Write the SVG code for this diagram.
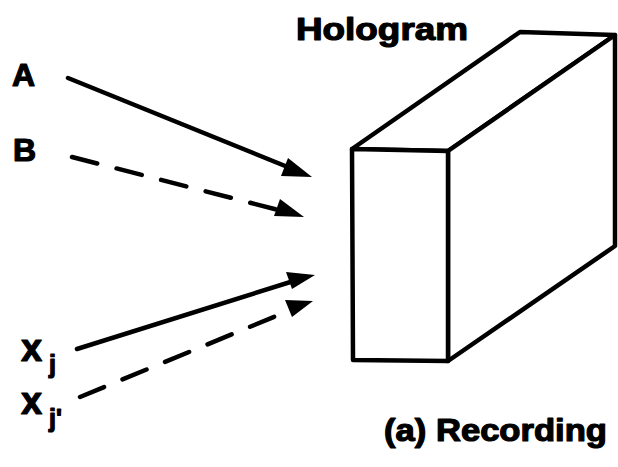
<svg xmlns="http://www.w3.org/2000/svg" width="618" height="467" viewBox="0 0 618 467">
<style>
.t{font-family:"Liberation Sans",Arial,sans-serif;font-weight:bold;fill:#000;stroke:#000;stroke-width:1.2;stroke-linejoin:round}
.ln{stroke:#000;stroke-width:4.5;fill:none;stroke-linecap:round}
.ds{stroke-dasharray:26 20}
.box{stroke:#000;stroke-width:4.5;fill:#fff;stroke-linejoin:round}
</style>
<g id="hologram">
<polygon class="box" points="352,149 520,32 615,35 448,151"/>
<polygon class="box" points="448,151 615,35 615,246 448,361"/>
<polygon class="box" points="352,149 448,151 448,361 353,360"/>
<text class="t" x="296" y="40" font-size="31" textLength="172" lengthAdjust="spacingAndGlyphs">Hologram</text>
</g>
<g id="labels">
<text class="t" x="12" y="86" font-size="32">A</text>
<text class="t" x="13" y="161" font-size="32">B</text>
<text class="t" x="21" y="361" font-size="38">x</text>
<text class="t" x="49" y="373" font-size="25">j</text>
<text class="t" x="21" y="414" font-size="38">x</text>
<text class="t" x="49" y="427" font-size="25">j'</text>
<text class="t" x="384" y="441" font-size="31" textLength="223" lengthAdjust="spacingAndGlyphs">(a) Recording</text>
</g>
<g id="connectors">
<line class="ln" x1="68" y1="78" x2="300" y2="172"/>
<line class="ln ds" x1="72" y1="157" x2="290" y2="213"/>
<line class="ln" x1="77" y1="349" x2="300" y2="279"/>
<line class="ln ds" x1="80" y1="397" x2="298" y2="307"/>
<path d="M312,177 L281,176 L288,158 Z" fill="#000"/>
<path d="M304,217 L274,216 L280,199 Z" fill="#000"/>
<path d="M315,275 L292,289 L286,272 Z" fill="#000"/>
<path d="M313,301 L292,317 L285,300 Z" fill="#000"/>
</g>
</svg>
